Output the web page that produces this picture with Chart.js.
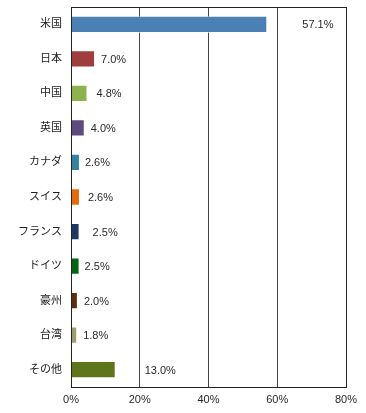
<!DOCTYPE html>
<html>
<head>
<meta charset="utf-8">
<script src="https://cdn.jsdelivr.net/npm/chart.js@4"></script>
<style>
  html, body { margin: 0; padding: 0; background: #fff; }
  #wrap { width: 366px; height: 413px; }
</style>
</head>
<body>
<div id="wrap"><canvas id="shareChart" width="366" height="413"></canvas></div>
<script>
// categories and values (%)
const countries = ["米国", "日本", "中国", "英国", "カナダ", "スイス", "フランス", "ドイツ", "豪州", "台湾", "その他"];
const shares = [57.1, 7.0, 4.8, 4.0, 2.6, 2.6, 2.5, 2.5, 2.0, 1.8, 13.0];
const xTicks = [0, 20, 40, 60, 80];

const barColors = ["#4a80b4", "#a03d3d", "#8fb34c", "#5e4a7c", "#31849b", "#e46c0a",
  "#1d3a64", "#036410", "#5e2f0b", "#a09c6c", "#5f751b"];
// gap between bar end and its value label, px
const labelGap = [35, 6, 9, 6, 5, 8, 13, 5, 6, 6, 29];

const FONT = "'Liberation Sans', 'Noto Sans CJK JP', sans-serif";

// value labels + outer frame
const valueLabels = {
  id: "valueLabels",
  afterDatasetsDraw(chart) {
    const ctx = chart.ctx;
    const meta = chart.getDatasetMeta(0);
    ctx.save();
    ctx.font = "11px " + FONT;
    ctx.fillStyle = "#2a2a2a";
    ctx.textAlign = "left";
    ctx.textBaseline = "middle";
    meta.data.forEach((bar, i) => {
      ctx.fillText(shares[i].toFixed(1) + "%", bar.x + labelGap[i], bar.y + 1);
    });
    const a = chart.chartArea;
    ctx.strokeStyle = "#222";
    ctx.lineWidth = 1;
    ctx.strokeRect(Math.round(a.left) + 0.5, Math.round(a.top) + 0.5,
      Math.round(a.right - a.left), Math.round(a.bottom - a.top));
    ctx.restore();
  }
};

new Chart(document.getElementById("shareChart"), {
  type: "bar",
  data: {
    labels: countries,
    datasets: [{
      data: shares,
      backgroundColor: barColors,
      borderColor: "rgba(255,255,255,0.6)",
      borderWidth: 1,
      barPercentage: 0.5,
      categoryPercentage: 1
    }]
  },
  options: {
    indexAxis: "y",
    responsive: false,
    animation: false,
    layout: { padding: { top: 7, right: 20, left: 0, bottom: 0 } },
    plugins: { legend: { display: false }, tooltip: { enabled: false } },
    scales: {
      x: {
        min: 0,
        max: 80,
        afterBuildTicks: s => { s.ticks = xTicks.map(v => ({ value: v })); },
        afterFit: s => { s.height = 26; },
        ticks: {
          color: "#2a2a2a",
          font: { size: 11, family: FONT },
          padding: 6,
          callback: v => v + "%"
        },
        grid: { color: "#444", lineWidth: 1, drawTicks: false },
        border: { color: "#222" }
      },
      y: {
        afterFit: s => { s.width = 71; s.paddingTop = 0; s.paddingBottom = 0; },
        ticks: {
          color: "#222",
          font: { size: 11, family: FONT },
          padding: 9
        },
        grid: { display: false, drawTicks: false },
        border: { color: "#222" }
      }
    }
  },
  plugins: [valueLabels]
});
</script>
</body>
</html>
